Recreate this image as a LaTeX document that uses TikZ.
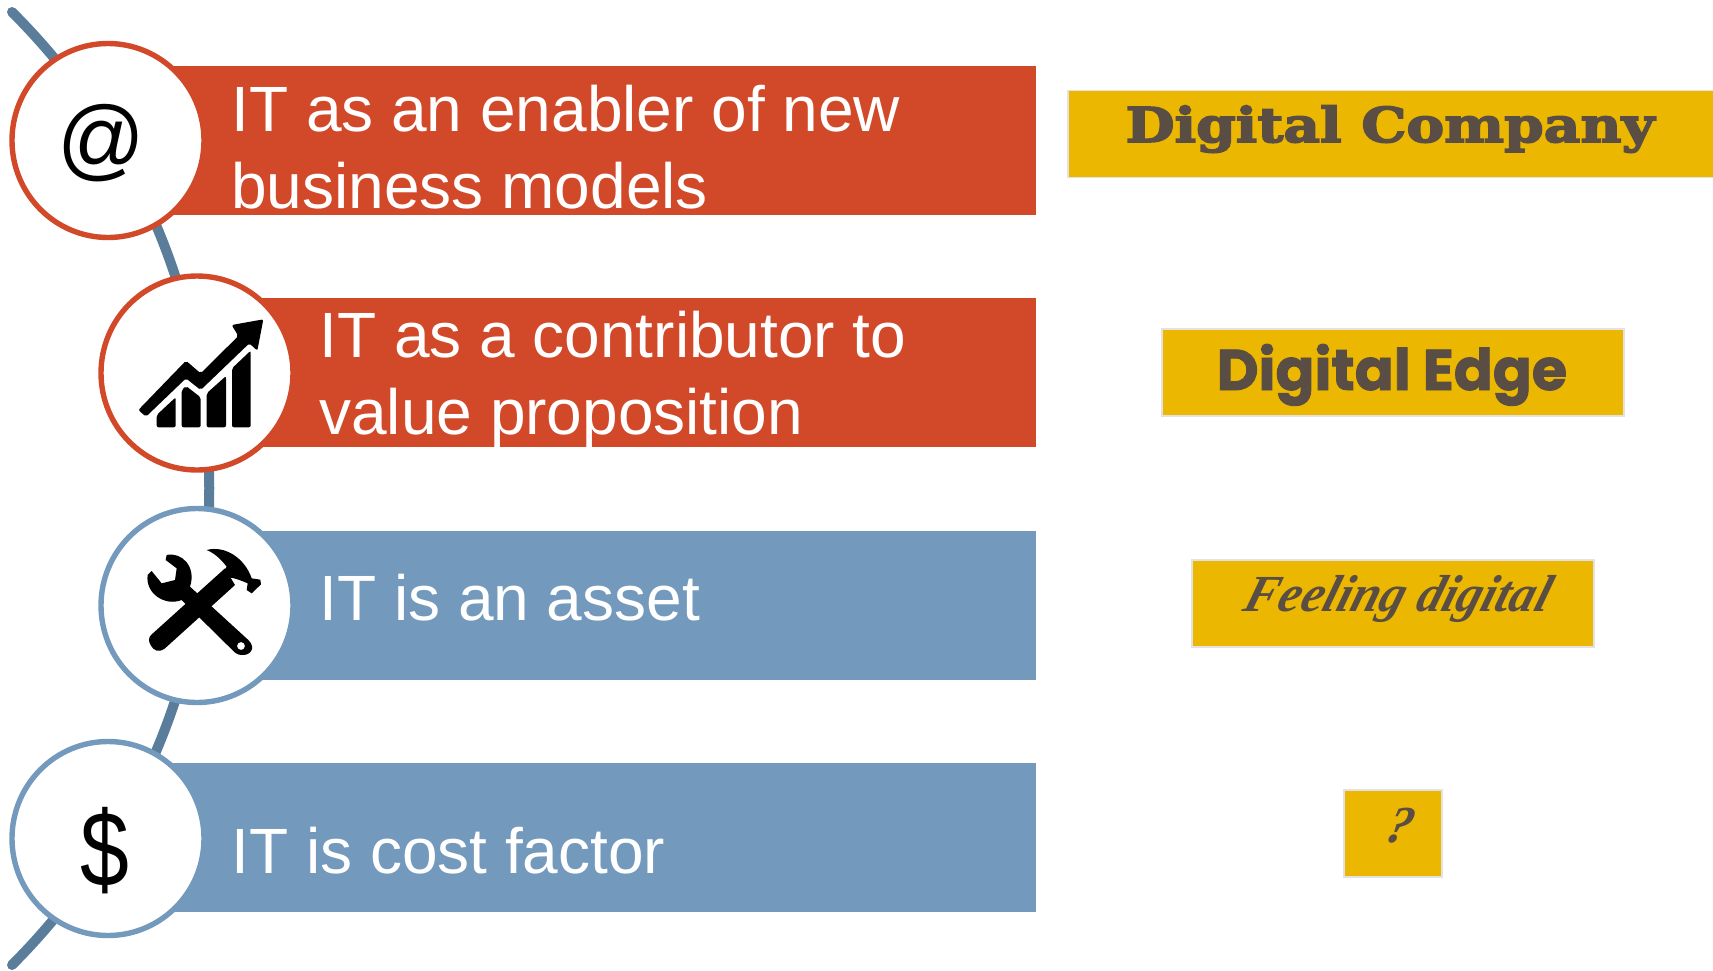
\documentclass[tikz,border=0pt]{standalone}
\usepackage{fontspec}
\setmainfont{Liberation Sans}
\newfontfamily\companyfont[FakeStretch=1.18,FakeBold=3.5]{DejaVu Serif}
\newfontfamily\edgefont[FakeBold=1.5]{Poppins}
\newfontfamily\feelfont[FakeSlant=.3,FakeStretch=.97]{Liberation Serif}
\usetikzlibrary{calc,shapes.geometric}
\definecolor{barred}{HTML}{D2492A}
\definecolor{barblue}{HTML}{7399BC}
\definecolor{spineblue}{HTML}{5B7D9C}
\definecolor{gold}{HTML}{EBB700}
\definecolor{goldtext}{HTML}{5A4E44}
\definecolor{goldedge}{HTML}{E2E2E2}
\tikzstyle{bar}=[rectangle,minimum width=443pt,minimum height=74.5pt,inner sep=0pt]
\tikzstyle{ring}=[ellipse,fill=white,draw,line width=2.7pt,minimum width=96pt,minimum height=97pt,inner sep=0pt]
\tikzstyle{bartext}=[text=white,anchor=base west,align=left,inner sep=0pt,font=\fontsize{32}{38.5}\selectfont]
\tikzstyle{goldbox}=[rectangle,fill=gold,draw=goldedge,line width=.8pt,minimum height=43.5pt,inner sep=0pt]
\tikzstyle{goldlabel}=[text=goldtext,anchor=base,inner sep=0pt]
\tikzstyle{spine} = [draw=spineblue,line width=5pt,line cap=round]
\tikzstyle{sign} = [text=black,inner sep=0pt,anchor=base]

\begin{document}
\begin{tikzpicture}[x=.5pt,y=-.5pt]
    \useasboundingbox (0,0) rectangle (1713,970);
    % The line behind the circles
    \coordinate (spinetop) at (12,12);
    \coordinate (spinebot) at (12,965);
    \coordinate (spinea) at (275,274);
    \coordinate (spineb) at (275,702);
    \draw[spine] (spinetop) .. controls (spinea) and (spineb) .. (spinebot);

    % Then the bars and the circles on them
    \foreach \pos/\name/\col in {{(593,140.5)/bara/barred}, {(593,372.5)/barb/barred},
    {(593,605.5)/barc/barblue}, {(593,837.5)/bard/barblue}}
        \node[bar,fill=\col] (\name) at \pos {};

    \foreach \pos/\name/\col in {{(108,140.5)/ringa/barred}, {(197,373)/ringb/barred},
    {(197,605.5)/ringc/barblue}, {(108,838.5)/ringd/barblue}}
        \node[ring,draw=\col] (\name) at \pos {};

    % Texts of the bars
    \foreach \pos/\name/\label in {{(231,208)/texta/IT as an enabler of new\\business models},
    {(319,434)/textb/IT as a contributor to\\value proposition},
    {(319,620)/textc/IT is an asset}, {(231,873)/textd/IT is cost factor}}
        \node[bartext] (\name) at \pos {\label};

    % Boxes on the right
    \node[goldbox,minimum width=323pt] (boxa) at (1391,134) {};
    \node[goldbox,minimum width=231pt] (boxb) at (1393,372.5) {};
    \node[goldbox,minimum width=201pt] (boxc) at (1393,603.5) {};
    \node[goldbox,minimum width=49pt] (boxd) at (1393,833.5) {};

    \node[goldlabel,font=\companyfont\bfseries\fontsize{24}{24}\selectfont] (labela) at (1390,142) {Digital Company};
    \node[goldlabel,font=\edgefont\bfseries\fontsize{28.7}{28.7}\selectfont] (labelb) at (1392,390) {Digital Edge};
    \node[goldlabel,font=\feelfont\bfseries\itshape\fontsize{26}{26}\selectfont] (labelc) at (1394,611) {Feeling digital};
    \node[goldlabel,font=\feelfont\bfseries\itshape\fontsize{26}{26}\selectfont] (labeld) at (1396,842) {?};

    % Signs in the circles
    \node[sign,font=\fontsize{45}{45}\selectfont\addfontfeature{FakeStretch=.96}] (signa) at (101.6,169) {@};
    \node[sign,font=\fontsize{53.5}{53.5}\selectfont\addfontfeature{FakeStretch=.82}] (signd) at (104.9,886) {\$};

    % Chart, in the pixels of a 3x crop
    \begin{scope}[shift={(130,310)},x=.16667pt,y=-.16667pt]
        \fill[black,rounded corners=1pt] (25,300) -- (168,152) -- (212,190) -- (325,78) -- (305,45) -- (400,28) -- (382,122) -- (358,100) -- (212,240) -- (168,205) -- (48,320) -- cycle;
        \fill[black,rounded corners=1pt] (80,352) -- (80,315) -- (137,262) -- (137,352) -- cycle;
        \fill[black,rounded corners=1pt] (155,352) -- (155,240) -- (168,228) -- (212,262) -- (212,352) -- cycle;
        \fill[black,rounded corners=1pt] (230,352) -- (230,250) -- (288,198) -- (288,352) -- cycle;
        \fill[black,rounded corners=1pt] (306,352) -- (306,175) -- (362,122) -- (362,352) -- cycle;
    \end{scope}

    % Tools, in the pixels of a 3x crop as well
    \begin{scope}[shift={(135,535)},x=.16667pt,y=-.16667pt]
        \fill[black] (48,300) -- (270,100) -- (300,150) -- (90,340) .. controls (70,355) and (55,345) .. (48,332) .. controls (40,320) and (40,308) .. (48,300) -- cycle;
        \fill[black] (215,45) .. controls (270,30) and (330,70) .. (350,130) -- (376,134) -- (378,148) -- (350,175) -- (335,165) -- (338,145) .. controls (315,135) and (295,128) .. (285,128) -- (262,115) -- (275,95) .. controls (260,75) and (240,55) .. (215,45) -- cycle;
        \fill[black,even odd rule] (95,60) .. controls (140,50) and (185,95) .. (165,155) -- (340,315) .. controls (365,340) and (345,362) .. (320,360) .. controls (308,360) and (298,352) .. (292,345) -- (140,195) .. controls (90,215) and (30,175) .. (38,120) -- (50,108) -- (80,145) -- (120,135) -- (125,100) -- (92,75) -- cycle
        (318,333) circle (2pt);
    \end{scope}
\end{tikzpicture}
\end{document}
